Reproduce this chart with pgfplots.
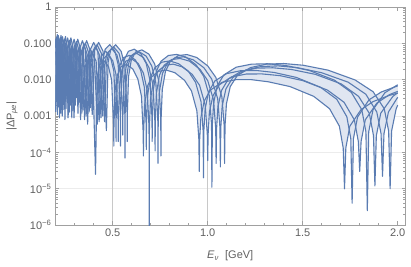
\documentclass[border=0pt]{standalone}
\usepackage{fontspec}
\setmainfont{Liberation Sans}
\usepackage{pgfplots}
\pgfplotsset{compat=1.18}
\usepgfplotslibrary{fillbetween}
\definecolor{mline}{RGB}{90,124,178}
\definecolor{mfill}{RGB}{224,230,241}
\definecolor{framegray}{RGB}{160,160,160}
\definecolor{gridgray}{RGB}{200,200,200}
\definecolor{gridlight}{RGB}{236,236,236}
\definecolor{labelgray}{RGB}{95,95,95}
\begin{document}
\begin{tikzpicture}
\path (0,0) rectangle (411pt,265pt);
\begin{axis}[
  at={(55pt,41pt)}, anchor=south west, scale only axis,
  width=350.5pt, height=218pt,
  set layers,
  ymode=log, xmin=0.1963, xmax=2.041, ymin=1e-6, ymax=1,
  axis line style={draw=framegray, line width=0.7pt},
  xtick={0.5,1,1.5,2}, xticklabels={0.5,1.0,1.5,2.0},
  minor xtick={0.2,0.3,0.4,0.6,0.7,0.8,0.9,1.1,1.2,1.3,1.4,1.6,1.7,1.8,1.9},
  ytick={1e-6,1e-5,1e-4,1e-3,1e-2,1e-1,1},
  yticklabels={10\textsuperscript{−6},10\textsuperscript{−5},10\textsuperscript{−4},0.001,0.010,0.100,1},
  minor ytick={2e-6,3e-6,4e-6,5e-6,6e-6,7e-6,8e-6,9e-6,2e-5,3e-5,4e-5,5e-5,6e-5,7e-5,8e-5,9e-5,2e-4,3e-4,4e-4,5e-4,6e-4,7e-4,8e-4,9e-4,0.002,0.003,0.004,0.005,0.006,0.007,0.008,0.009,0.02,0.03,0.04,0.05,0.06,0.07,0.08,0.09,0.2,0.3,0.4,0.5,0.6,0.7,0.8,0.9},
  tick align=inside,
  major tick length=4pt, minor tick length=2.5pt,
  every tick/.style={draw=framegray, line width=0.6pt},
  ymajorgrids,
  y grid style={draw=gridlight, line width=0.7pt},
  extra x ticks={0.5,1,1.5}, extra x tick labels={},
  extra x tick style={grid=major, major grid style={draw=gridgray, line width=1.2pt}},
  tick label style={font=\fontsize{11}{13}\selectfont, text=labelgray},
  label style={font=\fontsize{11}{13}\selectfont, text=labelgray},
  xlabel={\textit{E}\textsubscript{\textit{ν}}\ \ [GeV]},
  ylabel={|ΔP\textsubscript{\textit{μe}}|},
  xlabel style={at={(axis description cs:0.5,-0.142)}, anchor=center},
  ylabel style={at={(axis description cs:-0.1227,0.5)}, anchor=center},
  curve/.style={color=mline, line width=1.1pt, line join=round, mark=none},
]
\addplot[curve, name path=c1] coordinates {
(0.2000,0.0594) (0.2058,0.0343) (0.2098,0.0020) (0.2139,0.0338) (0.2206,0.0558) (0.2275,0.0320) (0.2324,0.0012) (0.2376,0.0312) (0.2457,0.0518) (0.2543,0.0297) (0.2606,0.0025) (0.2670,0.0287) (0.2774,0.0475) (0.2885,0.0270) (0.2965,0.0009) (0.3049,0.0260) (0.3184,0.0429) (0.3333,0.0246) (0.3440,0.0015) (0.3554,0.0235) (0.3739,0.0386) (0.3945,0.0219) (0.4096,2.5e-5) (0.4175,0.0111) (0.4300,0.0250) (0.4526,0.0340) (0.4777,0.0231) (0.4943,0.0098) (0.5053,4.9e-4) (0.5059,1.5e-4) (0.5065,4.9e-4) (0.5119,0.0048) (0.5244,0.0135) (0.5444,0.0230) (0.5734,0.0264) (0.6057,0.0198) (0.6323,0.0105) (0.6515,0.0035) (0.6605,3.4e-4) (0.6616,8e-5) (0.6626,3.4e-4) (0.6678,0.0020) (0.6826,0.0066) (0.7050,0.0120) (0.7413,0.0171) (0.7817,0.0185) (0.8269,0.0157) (0.8776,0.0097) (0.9148,0.0049) (0.9430,0.0014) (0.9534,2.3e-4) (0.9555,3e-5) (0.9577,2.3e-4) (0.9641,9.1e-4) (0.9817,0.0026) (1.0142,0.0052) (1.0750,0.0085) (1.1498,0.0101) (1.2285,0.0101) (1.3190,0.0088) (1.4334,0.0065) (1.5579,0.0035) (1.6413,0.0016) (1.6929,5.3e-4) (1.7131,1.33e-4) (1.7200,1e-5) (1.7269,1.33e-4) (1.7480,5.3e-4) (1.8066,0.0015) (1.8696,0.0025) (1.9546,0.0037) (2.0000,0.0043)
};
\addplot[curve, name path=c2] coordinates {
(0.2000,0.0764) (0.2046,0.1068) (0.2105,0.0617) (0.2147,0.0018) (0.2189,0.0603) (0.2257,0.0996) (0.2328,0.0572) (0.2378,0.0030) (0.2431,0.0557) (0.2515,0.0924) (0.2603,0.0529) (0.2666,0.0011) (0.2732,0.0515) (0.2838,0.0846) (0.2952,0.0483) (0.3034,0.0020) (0.3120,0.0466) (0.3258,0.0774) (0.3410,0.0441) (0.3520,0.0008) (0.3637,0.0420) (0.3826,0.0690) (0.4037,0.0392) (0.4191,0.0006) (0.4272,0.0200) (0.4400,0.0450) (0.4631,0.0612) (0.4888,0.0411) (0.5058,0.0174) (0.5170,8.6e-4) (0.5177,2e-4) (0.5183,8.6e-4) (0.5238,0.0084) (0.5366,0.0240) (0.5570,0.0408) (0.5867,0.0468) (0.6197,0.0349) (0.6470,0.0185) (0.6666,0.0062) (0.6759,6.1e-4) (0.6769,1.2e-4) (0.6780,6.1e-4) (0.6833,0.0036) (0.6985,0.0115) (0.7214,0.0212) (0.7586,0.0305) (0.7999,0.0330) (0.8461,0.0278) (0.8980,0.0173) (0.9361,0.0085) (0.9649,0.0025) (0.9756,4.1e-4) (0.9777,2e-5) (0.9799,4.1e-4) (0.9865,0.0016) (1.0045,0.0046) (1.0377,0.0093) (1.1000,0.0148) (1.1766,0.0179) (1.2571,0.0180) (1.3497,0.0159) (1.4667,0.0116) (1.5941,0.0062) (1.6795,0.0029) (1.7323,9.6e-4) (1.7530,2.4e-4) (1.7600,4e-6) (1.7670,2.4e-4) (1.7886,9.4e-4) (1.8487,0.0028) (1.9131,0.0046) (2.0000,0.0068)
};
\addplot[curve, name path=c3] coordinates {
(0.2000,0.0015) (0.2036,0.0526) (0.2093,0.0875) (0.2153,0.0506) (0.2196,0.0009) (0.2239,0.0491) (0.2309,0.0820) (0.2381,0.0470) (0.2432,0.0022) (0.2486,0.0459) (0.2572,0.0760) (0.2662,0.0435) (0.2727,0.0013) (0.2795,0.0420) (0.2903,0.0695) (0.3020,0.0397) (0.3103,0.0032) (0.3191,0.0382) (0.3332,0.0635) (0.3488,0.0362) (0.3600,0.0010) (0.3719,0.0347) (0.3913,0.0570) (0.4129,0.0323) (0.4286,0.0007) (0.4370,0.0164) (0.4500,0.0368) (0.4736,0.0500) (0.5000,0.0336) (0.5173,0.0141) (0.5288,6.9e-4) (0.5294,2e-4) (0.5300,6.9e-4) (0.5357,0.0069) (0.5488,0.0193) (0.5697,0.0328) (0.6001,0.0375) (0.6338,0.0283) (0.6617,0.0152) (0.6818,0.0050) (0.6912,4.9e-4) (0.6923,8e-7) (0.6934,4.9e-4) (0.6989,0.0029) (0.7144,0.0094) (0.7378,0.0173) (0.7758,0.0249) (0.8181,0.0270) (0.8654,0.0227) (0.9185,0.0141) (0.9574,0.0070) (0.9869,0.0020) (0.9978,3.2e-4) (1.0000,6e-5) (1.0022,3.2e-4) (1.0089,0.0013) (1.0274,0.0036) (1.0613,0.0073) (1.1250,0.0120) (1.2033,0.0144) (1.2857,0.0145) (1.3804,0.0130) (1.5001,0.0095) (1.6304,0.0052) (1.7177,0.0024) (1.7717,7.9e-4) (1.7928,2.0e-4) (1.8000,3e-5) (1.8072,2.0e-4) (1.8293,7.9e-4) (1.8907,0.0023) (1.9566,0.0039) (2.0000,0.0048)
};
\addplot[curve, name path=c4] coordinates {
(0.2000,0.1209) (0.2045,0.0025) (0.2082,0.0983) (0.2139,0.1644) (0.2201,0.0944) (0.2245,0.0012) (0.2289,0.0922) (0.2360,0.1530) (0.2433,0.0883) (0.2486,0.0008) (0.2542,0.0855) (0.2629,0.1416) (0.2721,0.0816) (0.2788,0.0020) (0.2857,0.0788) (0.2967,0.1302) (0.3087,0.0743) (0.3172,0.0012) (0.3261,0.0721) (0.3406,0.1188) (0.3565,0.0676) (0.3680,0.0006) (0.3802,0.0648) (0.4000,0.1064) (0.4221,0.0603) (0.4382,0.0009) (0.4467,0.0308) (0.4600,0.0685) (0.4842,0.0931) (0.5111,0.0625) (0.5288,0.0261) (0.5405,0.00128) (0.5412,1.5e-4) (0.5418,0.00128) (0.5476,0.0126) (0.5610,0.0358) (0.5824,0.0607) (0.6134,0.0694) (0.6479,0.0523) (0.6764,0.0280) (0.6969,0.0092) (0.7066,9.1e-4) (0.7077,2e-4) (0.7088,9.1e-4) (0.7144,0.0055) (0.7303,0.0175) (0.7542,0.0324) (0.7930,0.0466) (0.8363,0.0499) (0.8846,0.0423) (0.9389,0.0257) (0.9787,0.0126) (1.0088,0.0036) (1.0200,5.9e-4) (1.0221,1.1e-5) (1.0245,5.9e-4) (1.0313,0.0023) (1.0502,0.0068) (1.0849,0.0136) (1.1500,0.0222) (1.2300,0.0269) (1.3142,0.0276) (1.4111,0.0247) (1.5334,0.0181) (1.6666,0.0098) (1.7558,0.0045) (1.8110,0.0015) (1.8326,3.7e-4) (1.8400,2.5e-6) (1.8474,3.7e-4) (1.8699,0.0015) (1.9327,0.0044) (2.0000,0.0073)
};
\addplot[curve, name path=c5] coordinates {
(0.2000,0.1350) (0.2052,0.0785) (0.2089,0.0011) (0.2127,0.0767) (0.2186,0.1275) (0.2249,0.0732) (0.2294,0.0028) (0.2338,0.0719) (0.2411,0.1193) (0.2486,0.0684) (0.2540,0.0016) (0.2597,0.0666) (0.2686,0.1103) (0.2780,0.0635) (0.2848,0.0009) (0.2919,0.0609) (0.3032,0.1013) (0.3154,0.0578) (0.3241,0.0024) (0.3332,0.0560) (0.3480,0.0923) (0.3643,0.0525) (0.3760,0.0013) (0.3885,0.0503) (0.4087,0.0833) (0.4312,0.0472) (0.4477,0.0010) (0.4564,0.0239) (0.4700,0.0530) (0.4947,0.0720) (0.5222,0.0483) (0.5403,0.0202) (0.5523,9.8e-4) (0.5530,3e-4) (0.5536,9.8e-4) (0.5595,0.0097) (0.5732,0.0272) (0.5950,0.0461) (0.6267,0.0533) (0.6620,0.0407) (0.6911,0.0215) (0.7121,0.0071) (0.7220,7.0e-4) (0.7231,1.1e-4) (0.7242,7.0e-4) (0.7299,0.0042) (0.7461,0.0134) (0.7706,0.0251) (0.8103,0.0361) (0.8545,0.0386) (0.9038,0.0327) (0.9593,0.0194) (1.0000,0.0095) (1.0307,0.0028) (1.0421,4.5e-4) (1.0443,5e-5) (1.0468,4.5e-4) (1.0537,0.0018) (1.0730,0.0051) (1.1085,0.0104) (1.1750,0.0170) (1.2568,0.0209) (1.3428,0.0214) (1.4417,0.0192) (1.5667,0.0141) (1.7028,0.0077) (1.7940,0.0035) (1.8504,0.0012) (1.8725,2.9e-4) (1.8800,1.2e-5) (1.8875,2.9e-4) (1.9106,0.0012) (1.9747,0.0035) (2.0000,0.0044)
};
\addplot[curve, name path=c6] coordinates {
(0.2000,0.1082) (0.2042,0.1513) (0.2095,0.0875) (0.2134,0.0020) (0.2172,0.0855) (0.2232,0.1420) (0.2297,0.0820) (0.2342,0.0010) (0.2388,0.0800) (0.2462,0.1326) (0.2539,0.0765) (0.2594,0.0030) (0.2652,0.0745) (0.2743,0.1233) (0.2839,0.0705) (0.2909,0.0014) (0.2981,0.0680) (0.3096,0.1131) (0.3221,0.0645) (0.3310,0.0008) (0.3403,0.0625) (0.3554,0.1029) (0.3720,0.0585) (0.3840,0.0017) (0.3967,0.0565) (0.4174,0.0927) (0.4404,0.0530) (0.4572,0.0007) (0.4661,0.0265) (0.4800,0.0589) (0.5052,0.0799) (0.5333,0.0535) (0.5518,0.0223) (0.5640,0.00108) (0.5647,7e-5) (0.5654,0.00108) (0.5714,0.0107) (0.5854,0.0301) (0.6077,0.0509) (0.6401,0.0587) (0.6761,0.0447) (0.7058,0.0237) (0.7272,0.0080) (0.7373,7.9e-4) (0.7385,5e-5) (0.7396,7.9e-4) (0.7454,0.0046) (0.7620,0.0150) (0.7870,0.0277) (0.8275,0.0401) (0.8726,0.0429) (0.9230,0.0356) (0.9797,0.0215) (1.0212,0.0104) (1.0526,0.0030) (1.0643,4.9e-4) (1.0666,4e-5) (1.0690,4.9e-4) (1.0762,0.0019) (1.0958,0.0056) (1.1321,0.0115) (1.2000,0.0186) (1.2835,0.0232) (1.3714,0.0241) (1.4724,0.0215) (1.6001,0.0156) (1.7390,0.0086) (1.8322,0.0040) (1.8898,0.0013) (1.9123,3.3e-4) (1.9200,2.2e-5) (1.9277,3.3e-4) (1.9512,0.0013) (2.0000,0.0033)
};
\addplot[curve, name path=c7] coordinates {
(0.2000,0.0013) (0.2034,0.1053) (0.2085,0.1760) (0.2139,0.1017) (0.2178,0.0035) (0.2217,0.0994) (0.2279,0.1650) (0.2345,0.0953) (0.2391,0.0015) (0.2438,0.0929) (0.2514,0.1550) (0.2592,0.0888) (0.2648,0.0009) (0.2707,0.0864) (0.2800,0.1430) (0.2898,0.0817) (0.2969,0.0025) (0.3043,0.0788) (0.3161,0.1310) (0.3288,0.0753) (0.3379,0.0012) (0.3474,0.0729) (0.3628,0.1195) (0.3798,0.0682) (0.3920,0.0011) (0.4050,0.0653) (0.4261,0.1070) (0.4496,0.0606) (0.4667,0.0004) (0.4758,0.0306) (0.4900,0.0686) (0.5157,0.0920) (0.5444,0.0608) (0.5633,0.0253) (0.5758,0.00122) (0.5765,2e-4) (0.5771,0.00122) (0.5833,0.0122) (0.5976,0.0343) (0.6203,0.0582) (0.6534,0.0665) (0.6902,0.0510) (0.7205,0.0275) (0.7424,0.0092) (0.7527,9.1e-4) (0.7539,8e-5) (0.7550,9.1e-4) (0.7610,0.0054) (0.7779,0.0173) (0.8034,0.0323) (0.8448,0.0463) (0.8908,0.0495) (0.9423,0.0410) (1.0001,0.0241) (1.0425,0.0117) (1.0746,0.0034) (1.0865,5.6e-4) (1.0888,5e-5) (1.0913,5.6e-4) (1.0986,0.0022) (1.1187,0.0065) (1.1557,0.0131) (1.2250,0.0216) (1.3103,0.0270) (1.3999,0.0280) (1.5031,0.0251) (1.6334,0.0184) (1.7753,0.0099) (1.8703,0.0047) (1.9291,0.0016) (1.9522,3.9e-4) (1.9600,1e-5) (1.9678,3.9e-4) (1.9919,0.0016) (2.0000,0.0020)
};
\addplot[mfill, draw=none] fill between[of=c1 and c2];
\addplot[mfill, draw=none] fill between[of=c2 and c3];
\addplot[mfill, draw=none] fill between[of=c3 and c4];
\addplot[mfill, draw=none] fill between[of=c4 and c5];
\addplot[mfill, draw=none] fill between[of=c5 and c6];
\addplot[mfill, draw=none] fill between[of=c6 and c7];
\end{axis}
\end{tikzpicture}
\end{document}
